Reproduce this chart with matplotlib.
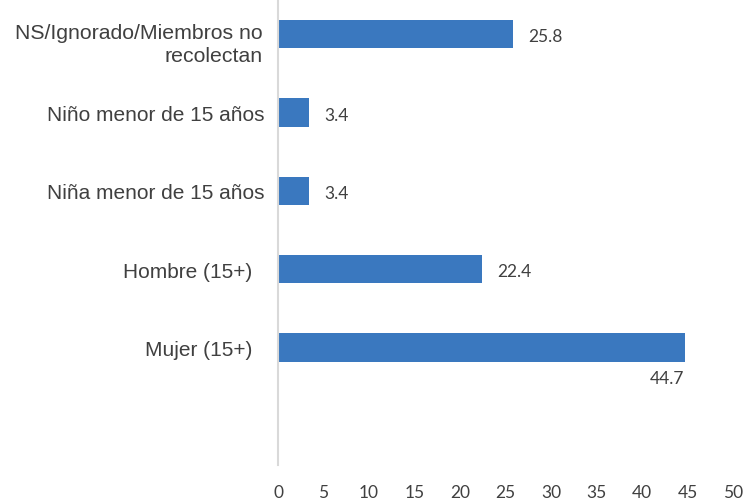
import matplotlib.pyplot as plt

# Datos
categorias = ['NS/Ignorado/Miembros no\nrecolectan', 'Niño menor de 15 años',
              'Niña menor de 15 años', 'Hombre (15+)  ', 'Mujer (15+)  ', '']
valores = [25.8, 3.4, 3.4, 22.4, 44.7]
etiquetas = ['25.8', '3.4', '3.4', '22.4', '44.7']
xticks = [0, 5, 10, 15, 20, 25, 30, 35, 40, 45, 50]

fig = plt.figure(figsize=(7.45, 5.02), dpi=100)
ax = fig.add_axes([278 / 745, 1 - 466 / 502, (733 - 278) / 745, 466 / 502])

pos = list(range(len(valores)))
ax.barh(pos, valores, height=0.36, color='#3A78BF')

# Etiquetas de valores
for i, (v, t) in enumerate(zip(valores, etiquetas)):
    if v > 40:
        ax.annotate(t, (v, i), xytext=(0, -30), textcoords='offset pixels',
                    ha='right', va='center', fontsize=12.5, color='#404040', family='Lato')
    else:
        ax.annotate(t, (v, i), xytext=(15, -2), textcoords='offset pixels',
                    ha='left', va='center', fontsize=12.5, color='#404040', family='Lato')

ax.set_xlim(0, 50)
ax.set_ylim(5.5, -0.45)
ax.set_xticks(xticks)
ax.set_xticklabels([str(x) for x in xticks], fontsize=12.5, color='#404040', family='Lato')
ax.set_yticks(range(len(categorias)))
ax.set_yticklabels([''] + categorias[1:], fontsize=15, color='#404040',
                   family='Liberation Sans')
ax.tick_params(axis='x', length=0, pad=14)
ax.tick_params(axis='y', length=0, pad=10)

# etiqueta de dos líneas, algo más baja que la barra (como en el original)
ax.annotate(categorias[0], (0, 0), xytext=(-15, -10), textcoords='offset pixels',
            ha='right', va='center', fontsize=15.3, color='#404040',
            family='Liberation Sans', linespacing=1.3, annotation_clip=False)

for s in ['top', 'right', 'bottom']:
    ax.spines[s].set_visible(False)
ax.spines['left'].set_color('#D9D9D9')
ax.spines['left'].set_linewidth(1.5)

plt.savefig('out.png', dpi=100)
